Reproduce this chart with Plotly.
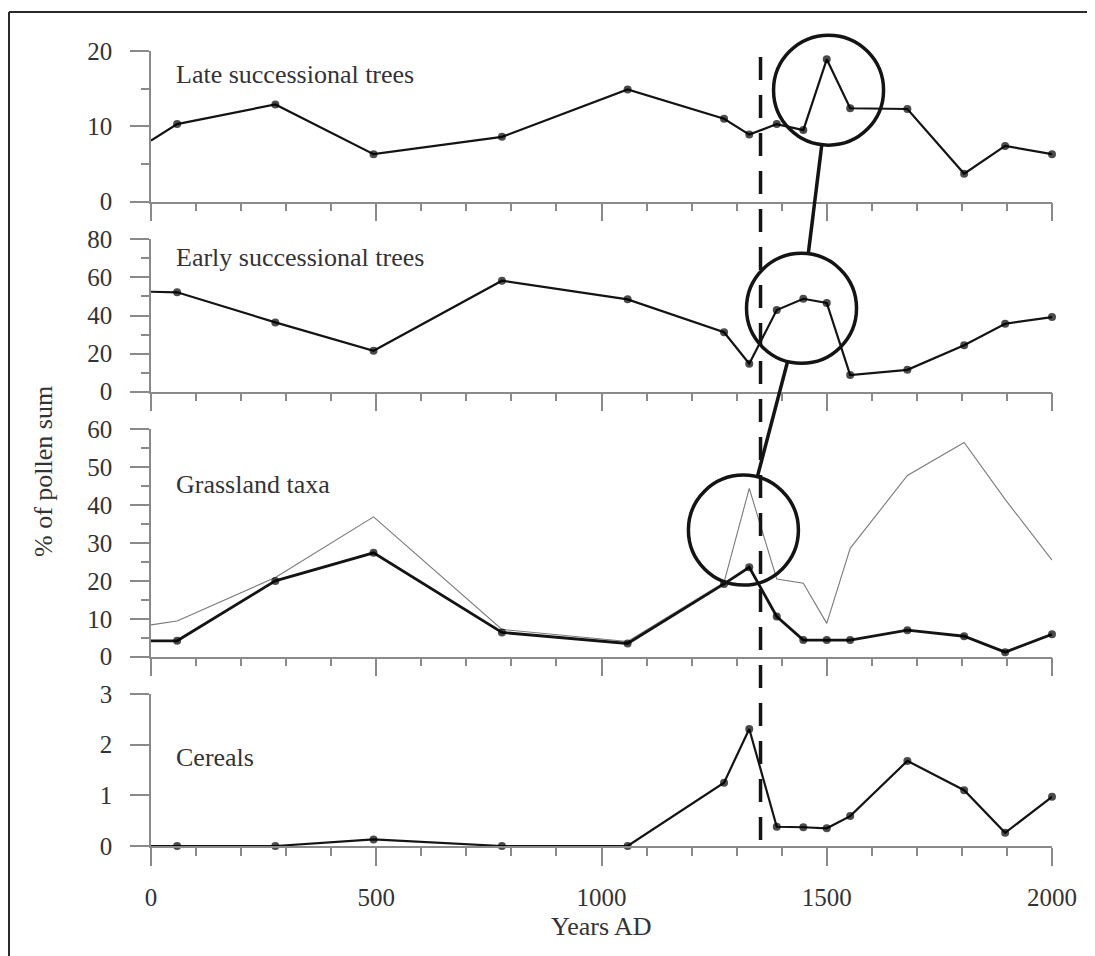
import plotly.graph_objects as go

# ---------------- data ----------------
years = [58, 276, 494, 779, 1058, 1272, 1328, 1389, 1448, 1500, 1552, 1679, 1805, 1896, 2000]

late_start = 8.1
late = [10.3, 12.9, 6.3, 8.6, 14.9, 11.0, 8.9, 10.3, 9.5, 18.9, 12.4, 12.3, 3.7, 7.4, 6.3]

early_start = 52.5
early = [52.2, 36.4, 21.5, 58.3, 48.5, 31.2, 14.7, 42.9, 48.8, 46.6, 8.8, 11.5, 24.4, 35.7, 39.2]

grass_start = 4.2
grass = [4.2, 20.0, 27.4, 6.4, 3.5, 19.2, 23.6, 10.6, 4.4, 4.4, 4.4, 7.0, 5.4, 1.2, 5.9]

grass_thin_start = 8.4
grass_thin = [9.4, 20.9, 36.9, 7.2, 4.0, 19.6, 44.4, 20.5, 19.4, 8.8, 28.6, 47.8, 56.5, 41.5, 25.5]

cereal_start = 0.0
cereals = [0.0, 0.0, 0.13, 0.0, 0.0, 1.25, 2.31, 0.38, 0.37, 0.35, 0.59, 1.68, 1.10, 0.26, 0.97]

panel_labels = ["Late successional trees", "Early successional trees", "Grassland taxa", "Cereals"]
x_ticks = [0, 500, 1000, 1500, 2000]
x_title = "Years AD"
y_title = "% of pollen sum"
event_year = 1353

# ---------------- layout geometry ----------------
# page body has an 8px margin, so the figure is drawn 8px smaller and the
# reference pixel positions are converted with the reference margins.
PAGE_OFF = 8
REF_W, REF_H = 1095, 956
REF_ML, REF_MR, REF_MT, REF_MB = 151, 43, 51, 110
W, H = REF_W - PAGE_OFF, REF_H - PAGE_OFF
ML, MT = REF_ML - PAGE_OFF, REF_MT - PAGE_OFF
MR, MB = REF_MR, REF_MB
PW = W - ML - MR
PH = H - MT - MB

domains = [[0.8105, 1.0], [0.5714, 0.7631], [0.2381, 0.5242], [0.0, 0.1912]]
ranges = [[0, 20], [0, 80], [0, 60], [0, 3]]
dticks = [10, 20, 10, 1]
minors = [5, 10, 5, None]
label_vals = [16.9, 70.5, 45.5, 1.75]   # vertical placement of panel labels (data units)

FONT = "Liberation Serif"
GRAY = "#8a8a8a"
INK = "#141414"
TXT = "#333333"


def to_px(year):
    return REF_ML + year / 2000.0 * PW


def to_py(val, i):
    d0, d1 = domains[i]
    r0, r1 = ranges[i]
    frac = d0 + (val - r0) / (r1 - r0) * (d1 - d0)
    return REF_MT + PH * (1 - frac)


def paper_x(px):
    return (px - REF_ML) / PW


def paper_y(py):
    return (REF_MT + PH - py) / PH


def ax(i, kind):
    return kind if i == 0 else f"{kind}{i + 1}"


fig = go.Figure()

series = [
    (late_start, late, 2.2),
    (early_start, early, 2.2),
    (grass_start, grass, 2.8),
    (cereal_start, cereals, 2.2),
]

# thin gray grassland curve (below the black one)
fig.add_trace(go.Scatter(
    x=[0] + years, y=[grass_thin_start] + grass_thin, xaxis="x3", yaxis="y3",
    mode="lines", line=dict(color="#7a7a7a", width=1.1), cliponaxis=False,
    showlegend=False, hoverinfo="skip"))

for i, (s0, vals, lw) in enumerate(series):
    fig.add_trace(go.Scatter(
        x=[0] + years, y=[s0] + vals, xaxis=ax(i, "x"), yaxis=ax(i, "y"),
        mode="lines+markers",
        line=dict(color=INK, width=lw),
        marker=dict(color="#000000", size=[0] + [8] * len(vals), line=dict(width=0)),
        cliponaxis=False, showlegend=False))

layout = dict(
    width=W, height=H,
    margin=dict(l=ML, r=MR, t=MT, b=MB),
    plot_bgcolor="white", paper_bgcolor="white",
    font=dict(family=FONT, color=TXT, size=25),
    showlegend=False,
)

for i in range(4):
    layout[ax(i, "xaxis")] = dict(
        domain=[0, 1], range=[0, 2000], anchor=ax(i, "y"),
        showline=True, linecolor=GRAY, linewidth=1.5,
        ticks="outside", ticklen=18, tickwidth=1.5, tickcolor=GRAY,
        tickmode="array", tickvals=x_ticks, ticktext=[str(v) for v in x_ticks],
        minor=dict(dtick=100, tick0=0, ticks="outside", ticklen=8, tickwidth=1.5, tickcolor=GRAY),
        showticklabels=(i == 3), ticklabelstandoff=10,
        tickfont=dict(family=FONT, size=25, color=TXT),
        showgrid=False, zeroline=False,
    )
    ydict = dict(
        domain=domains[i], range=ranges[i], anchor=ax(i, "x"),
        showline=True, linecolor=GRAY, linewidth=1.5,
        ticks="outside", ticklen=19, tickwidth=1.5, tickcolor=GRAY,
        dtick=dticks[i], tick0=0, ticklabelstandoff=13,
        tickfont=dict(family=FONT, size=25, color=TXT),
        showgrid=False, zeroline=False,
    )
    if minors[i]:
        ydict["minor"] = dict(dtick=minors[i], tick0=0, ticks="outside", ticklen=8,
                              tickwidth=1.5, tickcolor=GRAY)
    layout[ax(i, "yaxis")] = ydict

fig.update_layout(**layout)

shapes = []
# frame (top and left edges)
fx0 = paper_x(9)
fy_top = paper_y(12)
shapes.append(dict(type="line", xref="paper", yref="paper", x0=fx0, x1=paper_x(REF_W + 4),
                   y0=fy_top, y1=fy_top, line=dict(color="#2a2a2a", width=2)))
shapes.append(dict(type="line", xref="paper", yref="paper", x0=fx0, x1=fx0,
                   y0=fy_top, y1=paper_y(REF_H + 4), line=dict(color="#2a2a2a", width=2)))

# dashed event line (drawn top to bottom so the dash pattern starts at the top)
shapes.append(dict(type="line", xref="x4", yref="paper", x0=event_year, x1=event_year,
                   y0=paper_y(to_py(19.2, 0)), y1=paper_y(to_py(0, 3)),
                   line=dict(color=INK, width=3.5, dash="23px,15px")))

# highlighting circles and their connectors
circles = [(1504, 14.8, 0), (1444, 43.8, 1), (1315, 33.4, 2)]
R = 55
centers = [(to_px(yr), to_py(v, p)) for yr, v, p in circles]
for cx, cy in centers:
    shapes.append(dict(type="circle", xref="paper", yref="paper",
                       xsizemode="pixel", ysizemode="pixel",
                       xanchor=paper_x(cx), yanchor=paper_y(cy),
                       x0=-R, x1=R, y0=-R, y1=R,
                       line=dict(color=INK, width=3.5), fillcolor="rgba(0,0,0,0)"))
for (ax_, ay_), (bx_, by_) in zip(centers[:-1], centers[1:]):
    dx, dy = bx_ - ax_, by_ - ay_
    L = (dx ** 2 + dy ** 2) ** 0.5
    ux, uy = dx / L, dy / L
    sx, sy = ax_ + R * ux, ay_ + R * uy
    ex, ey = bx_ - R * ux, by_ - R * uy
    shapes.append(dict(type="line", xref="paper", yref="paper",
                       x0=paper_x(sx), y0=paper_y(sy), x1=paper_x(ex), y1=paper_y(ey),
                       line=dict(color=INK, width=3.5)))

annotations = []
for i, lab in enumerate(panel_labels):
    annotations.append(dict(text=lab, xref="paper", yref="paper",
                            x=paper_x(to_px(50)), y=paper_y(to_py(label_vals[i], i)),
                            xanchor="left", yanchor="middle", showarrow=False,
                            font=dict(family=FONT, size=26, color=TXT)))
annotations.append(dict(text=x_title, xref="paper", yref="paper",
                        x=0.5, y=paper_y(926), xanchor="center", yanchor="middle",
                        showarrow=False, font=dict(family=FONT, size=26, color=TXT)))
annotations.append(dict(text=y_title, xref="paper", yref="paper",
                        x=paper_x(43), y=paper_y(472), xanchor="center", yanchor="middle",
                        textangle=-90, showarrow=False,
                        font=dict(family=FONT, size=26, color=TXT)))

fig.update_layout(shapes=shapes, annotations=annotations)

fig.write_html("out.html")
